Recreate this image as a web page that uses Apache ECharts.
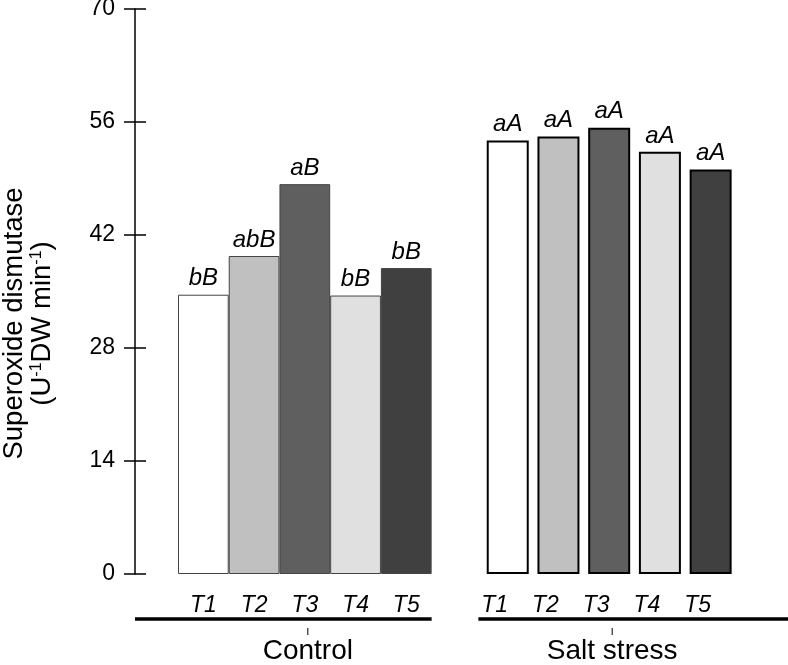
<!DOCTYPE html>
<html>
<head>
<meta charset="utf-8">
<script src="https://cdn.jsdelivr.net/npm/echarts@6/dist/echarts.min.js"></script>
<style>
  html, body { margin: 0; padding: 0; background: #fff; }
  #chart { width: 788px; height: 665px; }
</style>
</head>
<body>
<div id="chart"></div>
<script>
// data
const treatments = ['T1', 'T2', 'T3', 'T4', 'T5'];
const groups = ['Control', 'Salt stress'];
const controlValues = [34.6, 39.4, 48.3, 34.5, 37.9];
const saltValues = [53.7, 54.2, 55.3, 52.3, 50.1];
const controlLetters = ['bB', 'abB', 'aB', 'bB', 'bB'];
const saltLetters = ['aA', 'aA', 'aA', 'aA', 'aA'];
const yTicks = [0, 14, 28, 42, 56, 70];
const barColors = ['#ffffff', '#c0c0c0', '#5f5f5f', '#e0e0e0', '#404040'];

const FONT = '"Liberation Sans", Arial, Helvetica, sans-serif';

// 5 control slots, 1 gap slot, 5 salt slots
const slots = [];
for (let i = 0; i < 11; i++) slots.push('s' + i);

let controlData = [];
let saltData = [];
for (let i = 0; i < 11; i++) {
  if (i < 5) {
    controlData.push({ value: controlValues[i], itemStyle: { color: barColors[i] } });
  } else {
    controlData.push('-');
  }
  if (i >= 6) {
    saltData.push({ value: saltValues[i - 6], itemStyle: { color: barColors[i - 6] } });
  } else {
    saltData.push('-');
  }
}

const myChart = echarts.init(document.getElementById('chart'));

const option = {
  animation: false,
  textStyle: { fontFamily: FONT },
  grid: { left: 178, right: 52, top: 9, bottom: 91, outerBoundsMode: 'none', containLabel: false },
  xAxis: [
    {
      type: 'category',
      data: slots,
      axisLine: { show: false },
      axisTick: { show: false },
      axisLabel: {
        interval: 0,
        margin: 20,
        fontSize: 23,
        fontStyle: 'italic',
        color: '#000',
        fontFamily: FONT,
        formatter: function (v, i) { return i < 5 ? treatments[i] : ''; }
      }
    },
    {
      type: 'category',
      data: slots,
      position: 'bottom',
      axisLine: { show: false },
      axisTick: { show: false },
      axisLabel: {
        interval: 0,
        margin: 20,
        fontSize: 23,
        fontStyle: 'italic',
        color: '#000',
        fontFamily: FONT,
        padding: [0, 26, 0, 0],
        formatter: function (v, i) { return i >= 6 ? treatments[i - 6] : ''; }
      }
    }
  ],
  yAxis: [
    {
      type: 'value',
      min: yTicks[0],
      max: yTicks[yTicks.length - 1],
      interval: 14,
      offset: 43,
      axisLine: { show: true, lineStyle: { color: '#000', width: 1.5 } },
      axisTick: { show: true, length: 11, lineStyle: { color: '#000', width: 1.5 } },
      axisLabel: { fontSize: 23, color: '#000', margin: 20, fontFamily: FONT },
      splitLine: { show: false },
      name: '{t|Superoxide dismutase}\n{t|(U}{s|-1}{t|DW min}{s|-1}{t|)}',
      nameLocation: 'middle',
      nameRotate: 90,
      nameGap: 79,
      nameTextStyle: {
        padding: [0, 64, 0, 0],
        rich: {
          t: { fontSize: 27.5, color: '#000', lineHeight: 28, fontFamily: FONT },
          s: { fontSize: 16, color: '#000', lineHeight: 28, padding: [0, 0, 11, 0], fontFamily: FONT }
        }
      }
    },
    {
      type: 'value',
      min: yTicks[0],
      max: yTicks[yTicks.length - 1],
      interval: 14,
      position: 'left',
      offset: 43,
      axisLine: { show: false },
      axisTick: { show: true, inside: true, length: 11, lineStyle: { color: '#000', width: 1.5 } },
      axisLabel: { show: false },
      splitLine: { show: false }
    }
  ],
  series: [
    {
      name: groups[0],
      type: 'bar',
      xAxisIndex: 0,
      yAxisIndex: 0,
      barWidth: '100%',
      data: controlData,
      itemStyle: { borderColor: '#444', borderWidth: 1 },
      label: {
        show: true,
        position: 'top',
        distance: 4,
        fontSize: 24,
        fontStyle: 'italic',
        color: '#000',
        fontFamily: FONT,
        formatter: function (p) { return controlLetters[p.dataIndex]; }
      }
    },
    {
      name: groups[1],
      type: 'bar',
      xAxisIndex: 1,
      yAxisIndex: 0,
      barWidth: 42,
      data: saltData,
      itemStyle: { borderColor: '#000', borderWidth: 2 },
      label: {
        show: true,
        position: 'top',
        distance: 4,
        fontSize: 24,
        fontStyle: 'italic',
        color: '#000',
        fontFamily: FONT,
        formatter: function (p) { return saltLetters[p.dataIndex - 6]; }
      }
    }
  ]
};

myChart.setOption(option);

// group brackets under the treatment labels
function drawGroups() {
  const xc = function (i) { return myChart.convertToPixel({ xAxisIndex: 0 }, i); };
  const y0 = myChart.convertToPixel({ yAxisIndex: 0 }, 0);
  const half = (xc(1) - xc(0)) / 2;
  const axisX = xc(0) - half - 43;
  const lineY = y0 + 45;
  const spans = [
    [axisX, xc(4) + half, xc(2)],
    [xc(6) - half - 4, 788, xc(8)]
  ];
  const elements = [];
  spans.forEach(function (s, k) {
    elements.push({
      type: 'line',
      shape: { x1: s[0], y1: lineY, x2: s[1], y2: lineY },
      style: { stroke: '#000', lineWidth: 3.5 }
    });
    elements.push({
      type: 'line',
      shape: { x1: s[2] + 3, y1: lineY + 9, x2: s[2] + 3, y2: lineY + 16 },
      style: { stroke: '#000', lineWidth: 1 }
    });
    elements.push({
      type: 'text',
      x: s[2] + 3,
      y: lineY + 32,
      style: {
        text: groups[k],
        fontSize: 28,
        fontFamily: FONT,
        fill: '#000',
        align: 'center',
        verticalAlign: 'middle'
      }
    });
  });
  myChart.setOption({ graphic: { elements: elements } });
}
drawGroups();
</script>
</body>
</html>
